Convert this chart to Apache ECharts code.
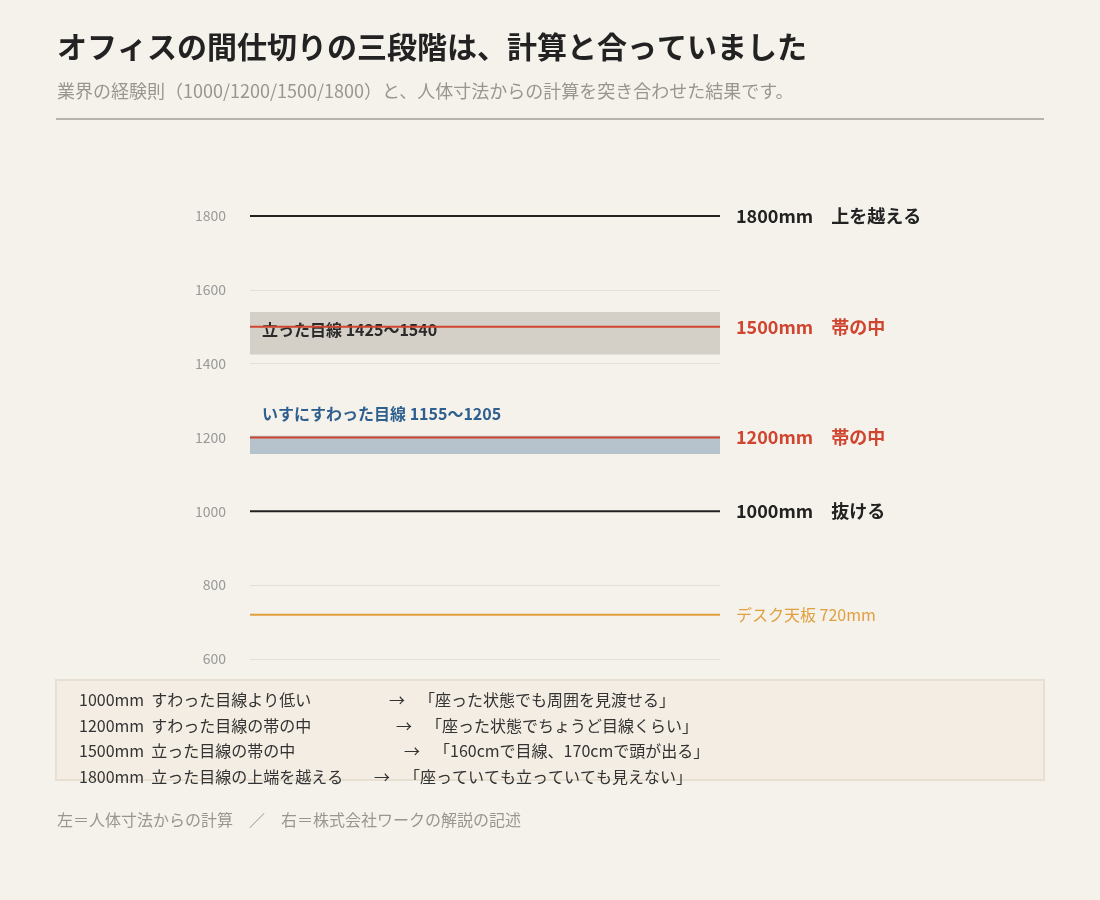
<!DOCTYPE html>
<html>
<head>
<meta charset="utf-8">
<script src="https://cdn.jsdelivr.net/npm/echarts@6/dist/echarts.min.js"></script>
<style>
html,body{margin:0;padding:0;background:#f5f2eb;}
#chart{width:1100px;height:900px;}
</style>
</head>
<body>
<div id="chart"></div>
<script>
var FONT = '"Noto Sans CJK JP", "Noto Sans", sans-serif';

// partition heights and their right-hand labels
var levels = [1800, 1500, 1200, 1000];
var levelNotes = ['上を越える', '帯の中', '帯の中', '抜ける'];
var levelColors = ['#222222', '#d0452f', '#d0452f', '#222222'];
var deskHeight = 720;

// eye-level bands
var standBand = [1425, 1540];
var seatBand = [1155, 1205];

var yTicks = [600, 800, 1000, 1200, 1400, 1600, 1800];

var notes = [
    ['1000mm  すわった目線より低い', '「座った状態でも周囲を見渡せる」', 389],
    ['1200mm  すわった目線の帯の中', '「座った状態でちょうど目線くらい」', 396],
    ['1500mm  立った目線の帯の中', '「160cmで目線、170cmで頭が出る」', 404],
    ['1800mm  立った目線の上端を越える', '「座っていても立っていても見えない」', 374]
];

var chart = echarts.init(document.getElementById('chart'));

var series = levels.map(function (v, i) {
    return {
        type: 'line',
        data: [[0, v], [1, v]],
        symbol: 'none',
        silent: true,
        lineStyle: { color: levelColors[i], width: 2 },
        endLabel: {
            show: true,
            formatter: v + 'mm　' + levelNotes[i],
            color: levelColors[i],
            fontSize: 18,
            fontWeight: 'bold',
            fontFamily: FONT,
            distance: 16
        },
        z: 5
    };
});

series.push({
    type: 'line',
    data: [[0, deskHeight], [1, deskHeight]],
    symbol: 'none',
    silent: true,
    lineStyle: { color: '#e0a040', width: 2 },
    endLabel: {
        show: true, formatter: 'デスク天板 ' + deskHeight + 'mm',
        color: '#e0a040', fontSize: 16, fontFamily: FONT, distance: 16
    },
    markArea: {
        silent: true,
        data: [
            [{ yAxis: standBand[0], itemStyle: { color: '#d4d0c8' },
               label: { show: true, position: [12, 10], formatter: '立った目線 ' + standBand[0] + '〜' + standBand[1],
                        color: '#2a2a2a', fontSize: 16, fontWeight: 'bold', fontFamily: FONT } },
             { yAxis: standBand[1] }],
            [{ yAxis: seatBand[0], itemStyle: { color: '#b6c2cc' },
               label: { show: true, position: [12, -30], formatter: 'いすにすわった目線 ' + seatBand[0] + '〜' + seatBand[1],
                        color: '#2f5f8f', fontSize: 16, fontWeight: 'bold', fontFamily: FONT } },
             { yAxis: seatBand[1] }]
        ]
    },
    z: 4
});

var graphic = [
    { type: 'text', left: 57, top: 32, style: { text: 'オフィスの間仕切りの三段階は、計算と合っていました', fill: '#222', font: 'bold 30px ' + FONT } },
    { type: 'text', left: 57, top: 82, style: { text: '業界の経験則（1000/1200/1500/1800）と、人体寸法からの計算を突き合わせた結果です。', fill: '#9a968f', font: '18px ' + FONT } },
    { type: 'rect', shape: { x: 56, y: 118, width: 988, height: 2 }, style: { fill: '#b8b3aa' } },
    { type: 'rect', shape: { x: 56, y: 680, width: 988, height: 100 }, style: { fill: '#f3ede3', stroke: '#e6dfd2', lineWidth: 2 } },
    { type: 'text', left: 57, top: 812, style: { text: '左＝人体寸法からの計算　／　右＝株式会社ワークの解説の記述', fill: '#9a968f', font: '16px ' + FONT } }
];
notes.forEach(function (n, i) {
    var y = 692 + i * 25.5;
    graphic.push({ type: 'text', left: 79, top: y, style: { text: n[0], fill: '#333', font: '16px ' + FONT } });
    graphic.push({ type: 'text', left: n[2], top: y, style: { text: '→', fill: '#333', font: '16px ' + FONT } });
    graphic.push({ type: 'text', left: n[2] + 30, top: y, style: { text: n[1], fill: '#333', font: '16px ' + FONT } });
});

chart.setOption({
    backgroundColor: '#f5f2eb',
    animation: false,
    grid: { left: 250, right: 380, top: 216, bottom: 241 },
    xAxis: { type: 'value', min: 0, max: 1, show: false },
    yAxis: {
        type: 'value', min: yTicks[0], max: yTicks[yTicks.length - 1], interval: 200,
        axisLine: { show: false }, axisTick: { show: false },
        axisLabel: { color: '#999', fontSize: 14, fontFamily: FONT, margin: 24, formatter: function (v) { return String(v); } },
        splitLine: { lineStyle: { color: '#e5e0d3', width: 1 } }
    },
    series: series,
    graphic: graphic
});
</script>
</body>
</html>
